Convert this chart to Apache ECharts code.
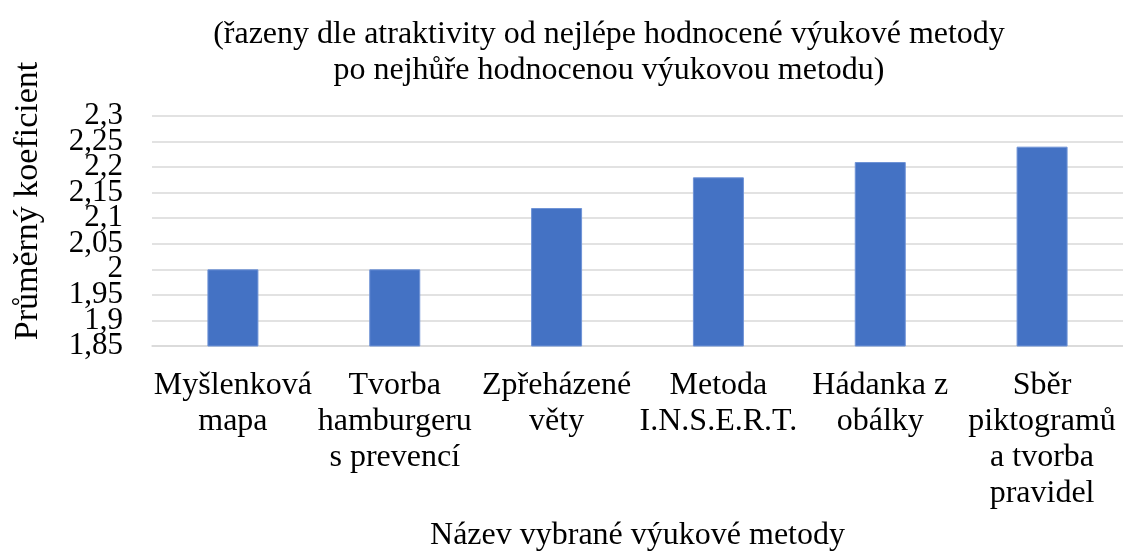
<!DOCTYPE html>
<html>
<head>
<meta charset="utf-8">
<script src="https://cdn.jsdelivr.net/npm/echarts@6/dist/echarts.min.js"></script>
<style>
  html, body { margin: 0; padding: 0; background: #fff; }
  #main { width: 1123px; height: 554px; }
</style>
</head>
<body>
<div id="main"></div>
<script>
const categories = [
  'Myšlenková\nmapa',
  'Tvorba\nhamburgeru\ns prevencí',
  'Zpřeházené\nvěty',
  'Metoda\nI.N.S.E.R.T.',
  'Hádanka z\nobálky',
  'Sběr\npiktogramů\na tvorba\npravidel'
];
const values = [2.0, 2.0, 2.12, 2.18, 2.21, 2.24];
const yTicks = ['1,85', '1,9', '1,95', '2', '2,05', '2,1', '2,15', '2,2', '2,25', '2,3'];

const titleText = '(řazeny dle atraktivity od nejlépe hodnocené výukové metody\npo nejhůře hodnocenou výukovou metodu)';
const xName = 'Název vybrané výukové metody';
const yName = 'Průměrný koeficient';

const font = 'Liberation Serif';

echarts.init(document.getElementById('main')).setOption({
  backgroundColor: '#fff',
  animation: false,
  title: {
    text: titleText,
    left: 604,
    top: 12,
    textAlign: 'center',
    textStyle: {
      fontFamily: font,
      fontSize: 32,
      fontWeight: 'normal',
      color: '#000',
      lineHeight: 36
    }
  },
  graphic: [{
    type: 'text',
    x: 28,
    y: 201,
    rotation: Math.PI / 2,
    style: {
      text: yName,
      fontFamily: font,
      fontSize: 34,
      fill: '#000',
      align: 'center',
      verticalAlign: 'middle'
    }
  }],
  grid: {
    left: 152,
    top: 116,
    width: 972,
    height: 230
  },
  xAxis: {
    type: 'category',
    data: categories,
    name: xName,
    nameLocation: 'middle',
    nameGap: 174,
    nameTextStyle: {
      fontFamily: font,
      fontSize: 32,
      color: '#000',
      verticalAlign: 'top'
    },
    axisLine: { lineStyle: { color: '#d9d9d9', width: 1.5 } },
    axisTick: { show: false },
    axisLabel: {
      interval: 0,
      margin: 22,
      fontFamily: font,
      fontSize: 32,
      lineHeight: 36,
      color: '#000'
    }
  },
  yAxis: [{
    type: 'value',
    min: 1.85,
    max: 2.3,
    interval: 0.05,
    axisLine: { show: false },
    axisTick: { show: false },
    splitLine: { lineStyle: { color: '#d9d9d9', width: 1.5 } },
    axisLabel: { show: false }
  }, {
    // tick labels only; a category axis with interval 0 shows every label
    type: 'category',
    position: 'left',
    data: yTicks,
    boundaryGap: false,
    axisLine: { show: false },
    axisTick: { show: false },
    splitLine: { show: false },
    axisLabel: {
      interval: 0,
      margin: 29,
      fontFamily: font,
      fontSize: 31,
      color: '#000'
    }
  }],
  series: [{
    type: 'bar',
    data: values,
    yAxisIndex: 0,
    barWidth: 51,
    itemStyle: { color: '#4472C4', borderColor: '#6f93d6', borderWidth: 1 }
  }]
});
</script>
</body>
</html>
